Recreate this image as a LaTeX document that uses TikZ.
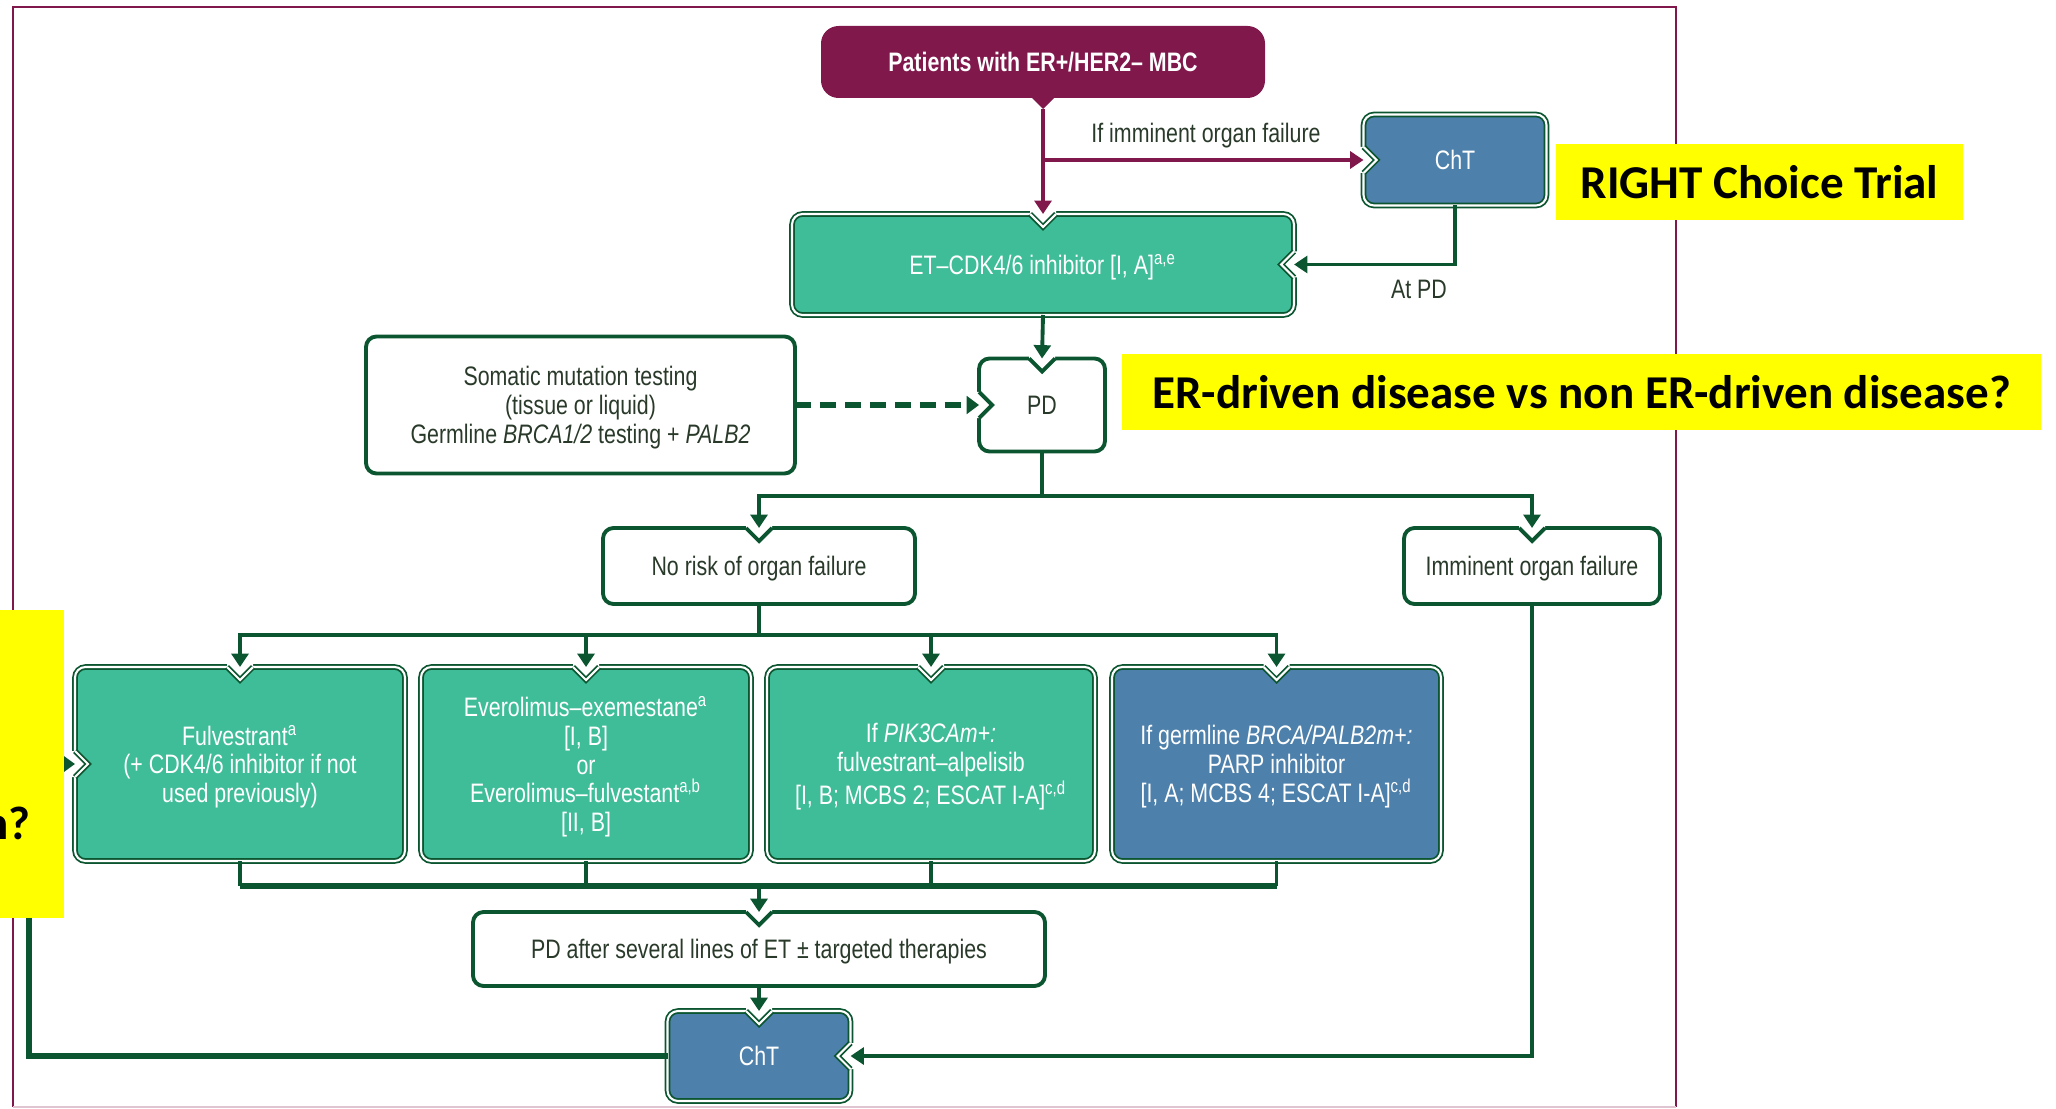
\documentclass[tikz,border=0pt]{standalone}
\usepackage{fontspec}
\setmainfont{Liberation Sans}[FakeStretch=0.8]
\newfontfamily\calloutfont{Carlito}
\usetikzlibrary{arrows.meta}

\definecolor{escpurple}{HTML}{80184C}
\definecolor{escgreen}{HTML}{3FBD98}
\definecolor{escblue}{HTML}{4D80AB}
\definecolor{escdark}{HTML}{0B5530}
\definecolor{escink}{HTML}{2A3A2A}
\definecolor{calloutyellow}{HTML}{FFFF00}

\tikzset{
  boxtext/.style={align=center, inner sep=2pt, outer sep=0pt, rounded corners=3pt,
    text depth=0pt, font=\fontsize{7.6}{8.2}\selectfont},
  whiteedge/.style={draw=escdark, line width=1.1pt},
  filledge/.style={draw=escdark, line width=0.5pt, double=white, double distance=0.6pt},
  whitebox/.style={boxtext, whiteedge, fill=white, text=escink},
  greenbox/.style={boxtext, filledge, fill=escgreen, text=white},
  bluebox/.style={boxtext, filledge, fill=escblue, text=white},
  startbox/.style={boxtext, fill=escpurple, text=white, rounded corners=5pt},
  flow/.style={escdark, line width=1.1pt},
  flowthick/.style={escdark, line width=1.9pt},
  flowarrow/.style={flow, -{Triangle[width=4.8pt,length=3.8pt]}},
  looparrow/.style={flowthick, -{Triangle[width=5.5pt,length=4pt]}},
  dashflow/.style={escdark, line width=1.9pt, dash pattern=on 4.5pt off 2.6pt,
    -{Triangle[width=5pt,length=3.5pt]}},
  purpleflow/.style={escpurple, line width=1.1pt},
  purplearrow/.style={purpleflow, -{Triangle[width=4.8pt,length=3.8pt]}},
  lbl/.style={text=escink, inner sep=1pt, font=\fontsize{7.6}{8.2}\selectfont},
  callout/.style={fill=calloutyellow, text=black, inner sep=0pt,
    font=\calloutfont\bfseries\fontsize{13.4}{16}\selectfont},
}

% V-shaped notch cut into a box edge: anchor, rotation, edge style
\newcommand{\boxnotch}[3]{%
  \begin{scope}[shift={(#1)}, rotate=#2]
    \fill[white] (-0.13,0) -- (0,-0.13) -- (0.13,0) -- (0.13,0.06) -- (-0.13,0.06) -- cycle;
    \draw[#3] (-0.13,0) -- (0,-0.13) -- (0.13,0);
  \end{scope}}

\begin{document}
\begin{tikzpicture}
    \useasboundingbox (0,0) rectangle (20.56,-11.09);
    % frame
    \draw[escpurple, line width=0.8pt] (0.13,-11.07) -- (0.13,-0.07) -- (16.76,-0.07) -- (16.76,-11.07);
    \draw[escpurple!25, line width=0.8pt] (0.13,-11.07) -- (16.76,-11.07);

    % boxes
    \node[startbox, minimum width=4.44cm, minimum height=0.72cm] (pat) at (10.43,-0.62) {\bfseries Patients with ER+/HER2– MBC};
    \fill[escpurple] ([xshift=-0.11cm]pat.south) -- ([yshift=-0.11cm]pat.south) -- ([xshift=0.11cm]pat.south) -- cycle;
    \node[bluebox, minimum width=1.83cm, minimum height=0.91cm] (chtTop) at (14.55,-1.60) {ChT};
    \node[greenbox, minimum width=5.02cm, minimum height=1.01cm] (et) at (10.43,-2.645) {ET–CDK4/6 inhibitor [I, A]\textsuperscript{a,e}};
    \node[whitebox, minimum width=1.26cm, minimum height=0.93cm] (pd) at (10.42,-4.05) {PD};
    \node[whitebox, minimum width=4.29cm, minimum height=1.37cm] (som) at (5.805,-4.05)
        {Somatic mutation testing\\(tissue or liquid)\\Germline \textit{BRCA1/2} testing + \textit{PALB2}};
    \node[whitebox, minimum width=3.12cm, minimum height=0.76cm] (norisk) at (7.59,-5.66) {No risk of organ failure};
    \node[whitebox, minimum width=2.56cm, minimum height=0.76cm] (imminent) at (15.32,-5.66) {Imminent organ failure};
    \node[greenbox, minimum width=3.30cm, minimum height=1.94cm] (fulv) at (2.40,-7.64)
        {Fulvestrant\textsuperscript{a}\\(+ CDK4/6 inhibitor if not\\used previously)};
    \node[greenbox, minimum width=3.30cm, minimum height=1.94cm] (evero) at (5.86,-7.64)
        {Everolimus–exemestane\textsuperscript{a}\\{}[I, B]\\or\\Everolimus–fulvestant\textsuperscript{a,b}\\{}[II, B]};
    \node[greenbox, minimum width=3.28cm, minimum height=1.94cm] (pik) at (9.31,-7.64)
        {If \textit{PIK3CAm+:}\\fulvestrant–alpelisib\\{}[I, B; MCBS 2; ESCAT I-A]\textsuperscript{c,d}};
    \node[bluebox, minimum width=3.29cm, minimum height=1.94cm] (parp) at (12.765,-7.64)
        {If germline \textit{BRCA/PALB2m+:}\\PARP inhibitor\\{}[I, A; MCBS 4; ESCAT I-A]\textsuperscript{c,d}};
    \node[whitebox, minimum width=5.72cm, minimum height=0.74cm] (pdafter) at (7.59,-9.49) {PD after several lines of ET ± targeted therapies};
    \node[bluebox, minimum width=1.83cm, minimum height=0.90cm] (chtBot) at (7.59,-10.56) {ChT};

    % notches
    \boxnotch{chtTop.west}{90}{filledge}
    \boxnotch{et.north}{0}{filledge}
    \boxnotch{et.east}{-90}{filledge}
    \boxnotch{pd.north}{0}{whiteedge}
    \boxnotch{pd.west}{90}{whiteedge}
    \boxnotch{norisk.north}{0}{whiteedge}
    \boxnotch{imminent.north}{0}{whiteedge}
    \foreach \b in {fulv,evero,pik,parp}
        {\boxnotch{\b.north}{0}{filledge}}
    \boxnotch{fulv.west}{90}{filledge}
    \boxnotch{pdafter.north}{0}{whiteedge}
    \boxnotch{chtBot.north}{0}{filledge}
    \boxnotch{chtBot.east}{-90}{filledge}

    % connectors
    \draw[purplearrow] ([yshift=-0.11cm]pat.south) -- (et.north);
    \draw[purplearrow] (pat.south |- chtTop.west) -- (chtTop.west);
    \node[lbl] (ifimm) at (12.06,-1.36) {If imminent organ failure};
    \draw[flowarrow] (chtTop.south) |- (et.east);
    \node[lbl] (atpd) at (14.19,-2.89) {At PD};
    \draw[flowarrow] (et.south) -- (pd.north);
    \draw[dashflow] (som.east) -- (pd.west);

    \coordinate (split1) at (10.42,-4.96);
    \draw[flow] (pd.south) -- (split1);
    \draw[flowarrow] (split1) -| (norisk.north);
    \draw[flowarrow] (split1) -| (imminent.north);

    \coordinate (split2) at (7.59,-6.35);
    \draw[flow] (norisk.south) -- (split2);
    \foreach \b in {fulv,evero,pik,parp}
        \draw[flowarrow] (split2) -| (\b.north);

    \coordinate (join) at (7.59,-8.86);
    \foreach \b in {fulv,evero,pik,parp}
        \draw[flow] (\b.south) -- (\b.south |- join);
    \draw[flowthick] (fulv.south |- join) -- (parp.south |- join);
    \draw[flowarrow] (join) -- (pdafter.north);
    \draw[flowarrow] (pdafter.south) -- (chtBot.north);

    \coordinate (loopcorner) at (0.29,-10.56);
    \draw[looparrow] (chtBot.west) -- (loopcorner) |- (fulv.west);
    \draw[flowarrow] (imminent.south) |- (chtBot.east);

    % yellow callouts
    \node[callout, minimum width=4.07cm, minimum height=0.76cm] (rightchoice) at (17.595,-1.82) {RIGHT Choice Trial};
    \node[callout, minimum width=9.19cm, minimum height=0.76cm] (erdriven) at (15.815,-3.92) {ER-driven disease vs non ER-driven disease?};
    \fill[calloutyellow] (0,-6.10) rectangle (0.64,-9.18);
    \node[callout, fill=none, anchor=base east] (cutoff) at (0.31,-8.39) {n?};
\end{tikzpicture}
\end{document}
